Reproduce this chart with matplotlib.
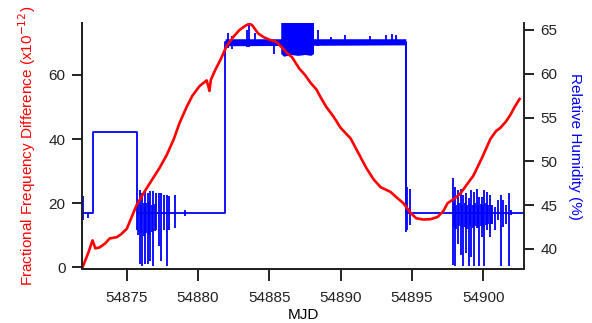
import numpy as np
import matplotlib
matplotlib.use("Agg")
import matplotlib.pyplot as plt

plt.rcParams['font.family'] = ['Liberation Sans', 'DejaVu Sans']

# Diferencia de frecuencia fraccional (x1e-12), curva roja
red_mjd = [54871.9, 54872.3, 54872.6, 54872.8, 54873.1, 54873.5, 54873.8, 54874.3,
           54874.6, 54875.0, 54875.7, 54876.3, 54876.8, 54877.3, 54877.8, 54878.3,
           54878.7, 54879.2, 54879.6, 54880.1, 54880.6, 54880.75, 54880.8, 54880.9,
           54881.2, 54881.6, 54882.0, 54882.5, 54882.9, 54883.3, 54883.6, 54883.8,
           54884.2, 54884.6, 54885.0, 54885.5, 54885.9, 54886.2, 54886.6, 54887.1,
           54887.5, 54887.9, 54888.3, 54888.6, 54889.0, 54889.5, 54890.0, 54890.7,
           54891.2, 54891.8, 54892.3, 54892.8, 54893.5, 54894.0, 54894.4, 54894.9,
           54895.3, 54895.8, 54896.3, 54896.8, 54897.2, 54897.5, 54898.0, 54898.4,
           54898.8, 54899.3, 54899.9, 54900.5, 54900.9, 54901.2, 54901.6, 54901.9,
           54902.2, 54902.55]
red_ffd = [0.0, 4.5, 8.4, 5.9, 6.2, 7.5, 9.0, 9.4,
           10.3, 12.0, 19.5, 24.0, 27.5, 31.0, 35.0, 40.0,
           45.0, 50.0, 53.5, 56.5, 58.3, 56.0, 55.0, 58.5,
           61.5, 65.0, 69.0, 72.0, 74.0, 75.3, 76.0, 75.5,
           73.0, 71.8, 71.0, 70.3, 68.5, 67.0, 65.5, 62.0,
           60.0, 57.5, 55.5, 53.0, 50.0, 47.0, 43.5, 40.2,
           36.0, 31.0, 27.5, 25.0, 23.5, 21.5, 20.0, 17.0,
           15.3, 14.9, 15.0, 15.7, 17.5, 20.0, 21.5, 23.0,
           25.5, 28.5, 34.0, 40.0, 42.5, 43.5, 45.5, 47.5,
           50.0, 52.5]

# Humedad relativa: nivel base (escalones)
hum_mjd = [54871.9, 54872.63, 54872.63, 54875.72, 54875.72, 54881.9,
           54881.9, 54894.57, 54894.57, 54902.9]
hum_rh = [44.1, 44.1, 53.4, 53.4, 44.1, 44.1,
          63.6, 63.6, 44.1, 44.1]

# Picos de ruido en la humedad (mjd, maximo, minimo)
spike_mjd = [54871.93, 54872.28,
             54875.72, 54875.81, 54875.91, 54876.0, 54876.10, 54876.2, 54876.29,
             54876.38, 54876.47, 54876.56, 54876.66, 54876.75, 54876.85, 54876.95,
             54877.04, 54877.23, 54877.41, 54877.60, 54877.79, 54877.97, 54878.35,
             54879.1,
             54882.1, 54882.4, 54883.4, 54883.6, 54884.0, 54885.3,
             54888.4, 54889.3, 54890.3, 54892.06, 54893.2, 54893.6, 54893.9,
             54894.57, 54894.68, 54894.87,
             54897.85, 54897.94, 54898.03, 54898.12, 54898.22, 54898.31, 54898.41,
             54898.50, 54898.60, 54898.69, 54898.79, 54898.88, 54898.97, 54899.06,
             54899.16, 54899.25, 54899.35, 54899.44, 54899.53, 54899.62, 54899.72,
             54899.81, 54899.91, 54900.0, 54900.09, 54900.18, 54900.28, 54900.37,
             54900.47, 54900.56, 54900.65, 54900.84, 54901.03, 54901.22, 54901.40,
             54901.59, 54901.78, 54901.97]
spike_hi = [46.1, 44.1,
            44.1, 45.3, 46.7, 45.0, 46.4, 45.3, 46.6,
            45.2, 46.4, 45.4, 46.6, 45.0, 46.6, 45.1,
            46.4, 46.4, 46.4, 46.2, 46.2, 46.0, 46.2,
            44.5,
            64.6, 64.3, 65.0, 65.7, 64.6, 63.6,
            65.0, 64.2, 64.4, 64.3, 64.4, 64.5, 64.4,
            63.6, 47.1, 46.9,
            48.07, 45.2, 47.1, 45.0, 46.7, 45.3, 46.9,
            45.0, 46.2, 45.2, 46.4, 45.0, 45.8, 45.1,
            46.7, 45.0, 46.5, 45.2, 46.9, 45.0, 45.97,
            45.1, 45.97, 45.0, 46.7, 45.2, 46.5, 45.0,
            46.2, 45.0, 45.0, 44.8, 45.6, 46.2, 45.6,
            45.0, 46.4, 44.45]
spike_lo = [43.3, 43.5,
            42.2, 41.6, 38.3, 41.8, 38.1, 41.5, 38.3,
            41.8, 38.3, 41.6, 38.6, 41.9, 38.1, 42.0,
            42.2, 40.3, 38.6, 42.2, 38.1, 42.2, 42.4,
            43.8,
            62.9, 62.8, 63.0, 63.0, 63.2, 62.3,
            63.2, 63.3, 63.3, 63.3, 63.3, 63.3, 63.3,
            41.9, 42.2, 42.7,
            38.2, 42.5, 38.0, 42.3, 40.6, 42.6, 39.3,
            42.4, 38.0, 42.5, 39.5, 42.3, 38.0, 42.6,
            39.1, 42.4, 38.0, 42.6, 42.4, 42.5, 38.0,
            42.6, 41.4, 42.5, 38.0, 42.7, 42.2, 42.8,
            41.4, 42.8, 42.9, 42.2, 43.3, 38.0, 42.5,
            42.9, 38.0, 43.9]

# Ruido fino sobre la meseta alta
plateau_mjd = [54881.9, 54894.57]
plateau_lo = [63.2, 63.3]
plateau_hi = [64.0, 64.0]

# Banda de oscilacion rapida (no se resuelve a esta escala)
band_mjd = [54885.8, 54886.0, 54886.5, 54887.0, 54887.5, 54887.9, 54888.1]
band_lo = [62.3, 62.0, 62.2, 62.1, 62.2, 62.1, 62.3]
band_hi = [66.5, 66.5, 66.5, 66.5, 66.5, 66.5, 66.5]

fig = plt.figure(figsize=(5.92, 3.23), dpi=100)
ax = fig.add_axes([0.138, 0.1663, 0.7476, 0.7634])
ax2 = ax.twinx()

blue = '#0000ff'
ax2.plot(hum_mjd, hum_rh, color=blue, lw=1.3)
ax2.vlines(spike_mjd, spike_lo, spike_hi, color=blue, lw=1.3)
ax2.fill_between(plateau_mjd, plateau_lo, plateau_hi, color=blue, lw=0)
ax2.fill_between(band_mjd, band_lo, band_hi, color=blue, lw=0)

ax.plot(red_mjd, red_ffd, color='#ff0000', lw=1.9)

# rojo por encima del azul
ax.set_zorder(ax2.get_zorder() + 1)
ax.patch.set_visible(False)

ax.set_xlim(54871.84, 54902.88)
ax.set_ylim(-0.62, 76.3)
ax2.set_ylim(37.68, 65.83)

ax.set_xticks([54875, 54880, 54885, 54890, 54895, 54900])
ax.set_xticklabels(['54875', '54880', '54885', '54890', '54895', '54900'])
ax.set_yticks([0, 20, 40, 60])
ax2.set_yticks([40, 45, 50, 55, 60, 65])

for a in (ax, ax2):
    a.spines['top'].set_visible(False)
    for s in a.spines.values():
        s.set_linewidth(1.4)
        s.set_color('#222222')
    a.tick_params(direction='out', length=7, width=1.4, pad=4.5,
                  labelsize=11, colors='#222222')
ax.spines['right'].set_visible(False)
ax.tick_params(axis='x', length=8.5, pad=7)

ax.set_xlabel('MJD', fontsize=11, labelpad=2)
ax.set_ylabel('Fractional Frequency Difference (x10$^{-12}$)', color='#ff0000',
              fontsize=11, labelpad=8)
ax2.set_ylabel('Relative Humidity (%)', color=blue, fontsize=11,
               rotation=270, labelpad=18)

fig.savefig('out.png', dpi=100)
